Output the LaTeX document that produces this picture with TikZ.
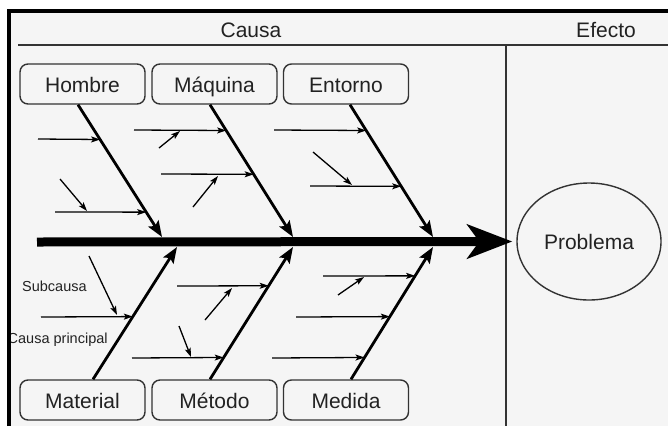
\documentclass[tikz,border=0pt]{standalone}
\usepackage{fontspec}
\setmainfont{Liberation Sans}
\usetikzlibrary{arrows.meta,shapes.geometric,calc}
\definecolor{bg}{HTML}{F5F5F5}
\definecolor{txt}{HTML}{222222}
\definecolor{edge}{HTML}{333333}
\begin{document}
\begin{tikzpicture}[x=1pt,y=-1pt,
  cat/.style={draw=edge, line width=1.4pt, rounded corners=8pt, minimum width=125pt, minimum height=40pt, inner sep=0pt, text height=17pt, text depth=0pt, text=txt, font=\fontsize{21}{24}\selectfont},
  bone/.style={line width=2.8pt, -{Stealth[length=16pt,width=12pt,inset=3pt]}},
  sub/.style={line width=1.3pt, -{Stealth[length=9pt,width=6pt,inset=2pt]}},
  smalltxt/.style={text=txt, font=\fontsize{14.5}{17}\selectfont, inner sep=0pt, anchor=west},
  headtxt/.style={text=txt, font=\fontsize{21}{24}\selectfont, inner sep=0pt},
  sep/.style={draw=edge, line width=1.5pt}]
\useasboundingbox (0,0) rectangle (668,426);
% background
\fill[bg] (8.5,11) rectangle (668,426);
% header
\node[headtxt] (causa) at (251,30) {Causa};
\node[headtxt] (efecto) at (606,30) {Efecto};
\coordinate (hl) at (18,45);
\coordinate (hr) at (668,45);
\draw[sep] (hl) -- (hr);
\coordinate (vt) at (506,45);
\coordinate (vb) at (506,426);
\draw[sep] (vt) -- (vb);
% problem
\node[draw=edge, line width=1.4pt, ellipse, minimum width=144pt, minimum height=117pt, inner sep=0pt, text=txt, font=\fontsize{21}{24}\selectfont] (prob) at (589,241.5) {Problema};
% spine
\coordinate (spineL) at (37,242);
\draw[line width=9pt, -{Stealth[length=45pt,width=34pt,inset=12pt]}] (spineL) -- ([xshift=-4pt]prob.west);
% category boxes
\node[cat] (hombre) at (82.5,84) {Hombre};
\node[cat] (maquina) at (214.5,84) {Máquina};
\node[cat] (entorno) at (346,84) {Entorno};
\node[cat] (material) at (82.5,400) {Material};
\node[cat] (metodo) at (214.5,400) {Método};
\node[cat] (medida) at (346,400) {Medida};
% bone ends
\coordinate (sH) at ($(hombre.south)+(-4.5,0)$);
\coordinate (sM) at ($(maquina.south)+(-4.5,0)$);
\coordinate (sE) at ($(entorno.south)+(4,0)$);
\coordinate (sMat) at ($(material.north)+(10.5,0)$);
\coordinate (sMet) at ($(metodo.north)+(-4.5,0)$);
\coordinate (sMed) at ($(medida.north)+(5,0)$);
\coordinate (jH) at (162,237);
\coordinate (jM) at (293,237);
\coordinate (jE) at (433,237);
\coordinate (jMat) at (177,247);
\coordinate (jMet) at (293,247);
\coordinate (jMed) at (433,247);
\draw[bone] (sH) -- (jH);
\draw[bone] (sM) -- (jM);
\draw[bone] (sE) -- (jE);
\draw[bone] (sMat) -- (jMat);
\draw[bone] (sMet) -- (jMet);
\draw[bone] (sMed) -- (jMed);
% sub causes: Hombre
\coordinate (h1a) at (38,139);   \coordinate (h1b) at ($(sH)!0.263!(jH)$);
\coordinate (h2a) at (55,212);   \coordinate (h2b) at ($(sH)!0.812!(jH)$);
\coordinate (hda) at (60,179);   \coordinate (hdb) at (87,211);
\draw[sub] (h1a) -- (h1b);
\draw[sub] (h2a) -- (h2b);
\draw[sub] (hda) -- (hdb);
% Maquina
\coordinate (m1a) at (134,130);  \coordinate (m1b) at ($(sM)!0.195!(jM)$);
\coordinate (m2a) at (161,174);  \coordinate (m2b) at ($(sM)!0.526!(jM)$);
\coordinate (md1a) at (159,148); \coordinate (md1b) at (180,131);
\coordinate (md2a) at (193,207); \coordinate (md2b) at (218,176);
\draw[sub] (m1a) -- (m1b);
\draw[sub] (m2a) -- (m2b);
\draw[sub] (md1a) -- (md1b);
\draw[sub] (md2a) -- (md2b);
% Entorno
\coordinate (e1a) at (274,130);  \coordinate (e1b) at ($(sE)!0.195!(jE)$);
\coordinate (e2a) at (310,186);  \coordinate (e2b) at ($(sE)!0.617!(jE)$);
\coordinate (eda) at (313,152);  \coordinate (edb) at (352,185);
\draw[sub] (e1a) -- (e1b);
\draw[sub] (e2a) -- (e2b);
\draw[sub] (eda) -- (edb);
% Material
\coordinate (a1a) at (41,317);   \coordinate (a1b) at ($(sMat)!0.474!(jMat)$);
\coordinate (ada) at (89,256);   \coordinate (adb) at (117,315);
\draw[sub] (a1a) -- (a1b);
\draw[sub] (ada) -- (adb);
% Metodo
\coordinate (t1a) at (177,286);  \coordinate (t1b) at ($(sMet)!0.707!(jMet)$);
\coordinate (t2a) at (132,358);  \coordinate (t2b) at ($(sMet)!0.165!(jMet)$);
\coordinate (td1a) at (205,320); \coordinate (td1b) at (232,288);
\coordinate (td2a) at (179,326); \coordinate (td2b) at (191,357);
\draw[sub] (t1a) -- (t1b);
\draw[sub] (t2a) -- (t2b);
\draw[sub] (td1a) -- (td1b);
\draw[sub] (td2a) -- (td2b);
% Medida
\coordinate (d1a) at (323,276);  \coordinate (d1b) at ($(sMed)!0.782!(jMed)$);
\coordinate (d2a) at (296,317);  \coordinate (d2b) at ($(sMed)!0.474!(jMed)$);
\coordinate (d3a) at (272,358);  \coordinate (d3b) at ($(sMed)!0.165!(jMed)$);
\coordinate (dda) at (338,295);  \coordinate (ddb) at (364,277);
\draw[sub] (d1a) -- (d1b);
\draw[sub] (d2a) -- (d2b);
\draw[sub] (d3a) -- (d3b);
\draw[sub] (dda) -- (ddb);
% legend texts
\node[smalltxt] (subcausa) at (22,286) {Subcausa};
\node[smalltxt] (causap) at (7.5,340) {Causa principal};
% frame
\coordinate (fb) at (8.5,426);
\coordinate (fc) at (8.5,11);
\coordinate (fr) at (668,11);
\draw[line width=4pt, miter limit=10] (fb) -- (fc) -- (fr);
\end{tikzpicture}
\end{document}
